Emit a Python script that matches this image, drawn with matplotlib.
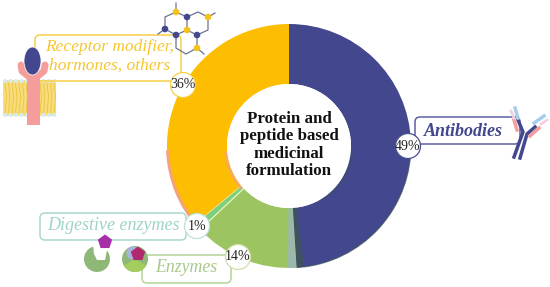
import numpy as np
from matplotlib import pyplot as plt
from matplotlib.patches import Circle, Ellipse, FancyBboxPatch, RegularPolygon, Wedge, Rectangle, Polygon

# shares of the ring, clockwise from the top
labels = ['Antibodies', 'Enzymes', 'Digestive enzymes', 'Receptor modifier,\nhormones, others']
shares = [49, 14, 1, 36]
share_labels = ['49%', '14%', '1%', '36%']
colors = ['#43488e', '#9cc562', '#7fd07c', '#fdbd00']

H = 287.
serif = 'Liberation Serif'
BLUE = '#43488e'
SALMON = '#f5a27e'


def Y(y):
    # picture coordinates have y going down
    return H - y


fig = plt.figure(figsize=(5.5, 2.87), dpi=100)
ax = fig.add_axes([0, 0, 1, 1])

cx, cy, R, r = 289., Y(146), 122., 62.
wedges, _ = ax.pie(shares, colors=colors, startangle=90, counterclock=False,
                   center=(cx, cy), radius=R, wedgeprops=dict(width=R - r, linewidth=0))
wedges[2].set_edgecolor('#f2f7c8')
wedges[2].set_linewidth(0.8)
ax.set_xlim(0, 550)
ax.set_ylim(0, H)
ax.set_aspect('equal')
ax.axis('off')

# image artefacts on the ring (angles are matplotlib ones, ccw from east)
ax.add_patch(Wedge((cx, cy), R, 269.5, 273.6, width=R - r, color='#9bb9a8', lw=0))
ax.add_patch(Wedge((cx, cy), R, 273.6, 277.0, width=R - r, color='#40525f', lw=0))
ax.add_patch(Wedge((cx, cy), R + 0.5, 277, 355, width=1.5, color='#40525f', lw=0, alpha=0.6))
ax.add_patch(Wedge((cx, cy), r + 3, 300, 355, width=4, color='#3c4a78', lw=0, alpha=0.6))
ax.add_patch(Wedge((cx, cy), R + 1, 182, 222, width=3, color=SALMON, lw=0))
ax.add_patch(Wedge((cx, cy), r + 3, 185, 222, width=3, color=SALMON, lw=0, alpha=0.7))
ax.add_patch(Circle((cx, cy), r, color='white', lw=0, zorder=3))

ax.text(cx, Y(145), 'Protein and\npeptide based\nmedicinal\nformulation', family=serif, weight='bold',
        fontsize=12.2, ha='center', va='center', linespacing=1.1, color='#111111', zorder=4)

# membrane
ax.add_patch(Rectangle((3, Y(116)), 53, 36, color='#f8dc78', lw=0, zorder=1))
for x0 in np.arange(5, 57, 3.5):
    ax.plot([x0, x0 + 1.5, x0], [Y(83), Y(97), Y(113)], color='#e6b92e', lw=0.4, zorder=1)
for x0 in np.arange(5, 57, 5.5):
    ax.add_patch(Circle((x0, Y(81)), 2, color='#d5ebf6', lw=0, zorder=1))
    ax.add_patch(Circle((x0, Y(115)), 2, color='#d5ebf6', lw=0, zorder=1))

# label boxes
boxes = [(35, 35, 181, 81, '#f8cf45'), (415, 117, 520, 144, '#5d619f'),
         (40, 213, 186, 240, '#a9d8d0'), (142, 255, 231, 283, '#b5d39a')]
for x0, y0, x1, y1, col in boxes:
    ax.add_patch(FancyBboxPatch((x0 + 4, Y(y1) + 4), x1 - x0 - 8, y1 - y0 - 8,
                                boxstyle='round,pad=4,rounding_size=5', fc='white' if x0 != 35 else 'none',
                                ec=col, lw=1.1, zorder=2))

# receptor
ax.add_patch(Rectangle((27, Y(125)), 13, 50, color='#f59c9c', lw=0, zorder=3))
ax.plot([21, 22, 33, 44, 45], [Y(65), Y(71), Y(80), Y(71), Y(65)], color='#f59c9c', lw=5,
        solid_capstyle='round', zorder=3)
ax.add_patch(Ellipse((32.5, Y(61)), 17, 28, color=BLUE, ec='white', lw=0.5, zorder=4))

# label text
ax.text(110, Y(47), 'Receptor modifier,', family=serif, style='italic', fontsize=12.5, color='#f6c62f',
        ha='center', va='center', zorder=5)
ax.text(110, Y(66), 'hormones, others', family=serif, style='italic', fontsize=12.5, color='#f6c62f',
        ha='center', va='center', zorder=5)
ax.text(113, Y(226), 'Digestive enzymes', family=serif, style='italic', fontsize=13, color='#9fd4c9',
        ha='center', va='center', zorder=5)
ax.text(186, Y(267), 'Enzymes', family=serif, style='italic', fontsize=12.8, color='#a9c88a',
        ha='center', va='center', zorder=5)
ax.text(463, Y(131), 'Antibodies', family=serif, style='italic', weight='bold', fontsize=13, color=BLUE,
        ha='center', va='center', zorder=5)

# percentage bubbles, same order as shares
bubbles = [(408, 146, '#4a4f8f'), (238, 257, '#cfe0a8'), (197, 226, '#bfe3d6'), (183, 85, '#f8cf45')]
for (x0, y0, col), txt in zip(bubbles, share_labels):
    ax.add_patch(Circle((x0, Y(y0)), 12.5, fc='white', ec=col, lw=0.9, zorder=6))
    ax.text(x0, Y(y0), txt, family=serif, fontsize=10, color='#222222', ha='center', va='center', zorder=7)

# molecule
bonds = [[(176, 3), (176, 12), (187, 17), (187, 30), (176, 35), (165, 29), (165, 17), (176, 12)],
         [(187, 17), (198, 12), (208, 17), (208, 30), (197, 35), (187, 30)],
         [(176, 35), (176, 48), (186, 54), (197, 48), (197, 35)],
         [(208, 17), (215, 13)], [(165, 29), (158, 34)], [(197, 48), (204, 54)]]
for bond in bonds:
    ax.plot([p[0] for p in bond], [Y(p[1]) for p in bond], color='#6b7390', lw=0.9, zorder=3)
for x0, y0 in [(176, 12), (208, 17), (187, 30), (197, 48)]:
    ax.add_patch(Circle((x0, Y(y0)), 3.3, color='#f5c21a', lw=0, zorder=4))
for x0, y0 in [(187, 17), (165, 29), (176, 35), (197, 35)]:
    ax.add_patch(Circle((x0, Y(y0)), 3.3, color=BLUE, lw=0, zorder=4))

# antibody
for pts, col, w in [([(514, 157), (523, 132), (518, 120)], BLUE, 2.5),
                    ([(520, 158), (527, 134), (535, 127)], BLUE, 2.5),
                    ([(514, 120), (517, 130)], '#f59c9c', 2.5),
                    ([(511, 111), (514, 118)], '#f3cfe6', 2), ([(515, 108), (518, 118)], '#a8cdec', 2.5),
                    ([(530, 136), (539, 128)], '#f59c9c', 2.5), ([(534, 123), (544, 116)], '#a8cdec', 2.5),
                    ([(541, 124), (547, 120)], '#f3cfe6', 2)]:
    ax.plot([p[0] for p in pts], [Y(p[1]) for p in pts], color=col, lw=w, zorder=5)

# enzymes
ax.add_patch(Circle((97, Y(259)), 13, color='#8fb878', lw=0, zorder=3))
ax.add_patch(Polygon([(93, Y(245)), (102, Y(243)), (107, Y(250)), (105, Y(260)), (97, Y(260)), (94, Y(254))],
                     color='white', lw=0, zorder=4))
ax.add_patch(RegularPolygon((105, Y(242)), 5, radius=7.5, color='#a62ea8', lw=0, zorder=5))
ax.add_patch(Circle((135, Y(259)), 13, color='#8fb878', lw=0, zorder=3))
ax.add_patch(Wedge((135, Y(259)), 13, 210, 330, color='#a3cd5c', lw=0, zorder=3))
ax.add_patch(Circle((133, Y(253)), 6.5, color='#a8b4e0', lw=0, zorder=3))
ax.add_patch(RegularPolygon((138, Y(254)), 5, radius=7.5, color='#b0286e', lw=0, zorder=5))

fig.savefig('out.png', dpi=100)
